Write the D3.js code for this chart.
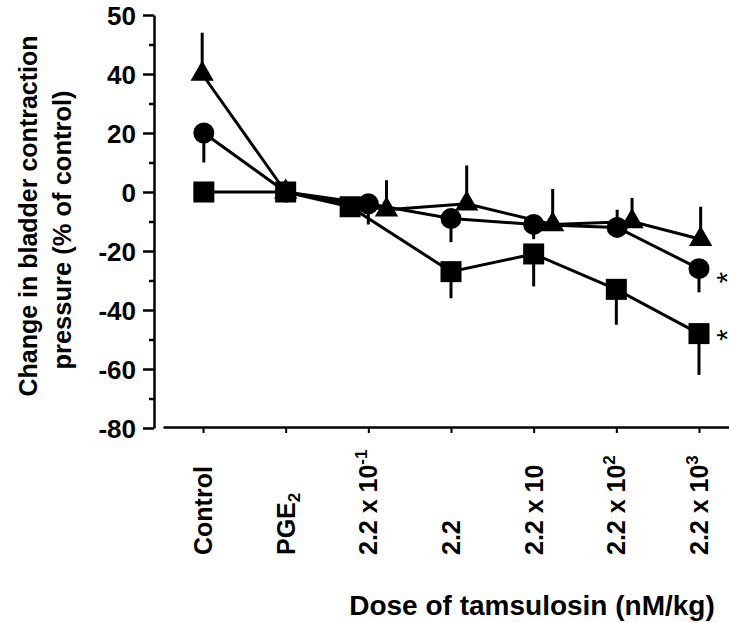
<!DOCTYPE html>
<html><head><meta charset="utf-8">
<script src="https://cdn.jsdelivr.net/npm/d3@7"></script>
<style>
body{margin:0;background:#fff}
text{font-family:"Liberation Sans",Arial,Helvetica,sans-serif;font-weight:bold;fill:#000}
</style>
</head><body><svg id="c" width="729" height="623"></svg>
<script>
// ---- data ----
const catBase = ["Control","PGE","2.2 x 10","2.2","2.2 x 10","2.2 x 10","2.2 x 10"];
const catSub  = ["","2","","","","",""];
const catSup  = ["","","-1","","","2","3"];
const catIndex = [0,1,2,3,4,5,6];

// series (x in category-index units, slightly offset where the markers were shifted)
const squareX   = [0.01, 1, 1.78, 3.0, 4.0, 5.0, 6.0];
const squareY   = [0, 0, -5, -27, -21, -33, -48];
const squareErr = [0, 0, 0, -9, -11, -12, -14];

const circleX   = [0.01, 1, 2.0, 3.0, 4.0, 5.01, 6.0];
const circleY   = [20, 0, -4, -9, -11, -12, -26];
const circleErr = [-10, 0, -7, -8, -5, 6, -8];

const triX      = [-0.01, 1, 2.22, 3.19, 4.23, 5.19, 6.02];
const triY      = [40, 0, -6, -4, -11, -10, -16];
const triErr    = [14, 0, 10, 13, 12, 8, 11];

const yTickValues = [60, 40, 20, 0, -20, -40, -60, -80];
const yTickLabels = ["50","40","20","0","-20","-40","-60","-80"];
const yMinorTicks = [50, 30, 10, -10, -30, -50, -70];

const starY = [-29, -48.5];
const starX = [6.24, 6.24];

// ---- drawing ----
const svg = d3.select("#c");
const x = d3.scaleLinear().domain([-0.484, 6.363]).range([163, 729]);
const y = d3.scaleLinear().domain([-80, 60]).range([428, 15]);

// y axis
const yAx = svg.append("g").attr("transform","translate(154,0)")
  .call(d3.axisLeft(y).tickValues(yTickValues).tickSize(11).tickSizeOuter(0).tickPadding(7)
        .tickFormat((d,i)=>yTickLabels[i]));
yAx.selectAll("text").style("font-size","26px").attr("dy","0.36em");
yAx.selectAll("line,path").attr("stroke","#000").attr("stroke-width",2.5);
const yMin = svg.append("g").attr("transform","translate(154,0)")
  .call(d3.axisLeft(y).tickValues(yMinorTicks).tickSize(5).tickSizeOuter(0).tickFormat(""));
yMin.select("path").remove();
yMin.selectAll("line").attr("stroke","#000").attr("stroke-width",2.5);

// x axis
const xAx = svg.append("g").attr("transform",`translate(0,${y(-80)-1})`)
  .call(d3.axisBottom(x).tickValues(catIndex).tickSize(6).tickSizeOuter(0).tickFormat(""));
xAx.select("path").attr("stroke","#000").attr("stroke-width",2.5);
xAx.selectAll("line").attr("stroke","#000").attr("stroke-width",2);

// x tick labels (rotated)
catIndex.forEach(i=>{
  const t = svg.append("text")
    .attr("transform",`translate(${x(i)+9},555) rotate(-90)`)
    .attr("text-anchor","start").style("font-size","25px");
  t.append("tspan").text(catBase[i]);
  if (catSub[i]) t.append("tspan").attr("dy","0.3em").style("font-size","17px").text(catSub[i]);
  if (catSup[i]) t.append("tspan").attr("dy","-0.6em").style("font-size","17px").text(catSup[i]);
});

// axis titles
svg.append("text").attr("transform","translate(37,216) rotate(-90)")
  .attr("text-anchor","middle").style("font-size","25px").text("Change in bladder contraction");
svg.append("text").attr("transform","translate(71,230) rotate(-90)")
  .attr("text-anchor","middle").style("font-size","25.5px").text("pressure (% of control)");
svg.append("text").attr("x",532).attr("y",615)
  .attr("text-anchor","middle").style("font-size","28px").text("Dose of tamsulosin (nM/kg)");

// series
const series = [
  {xs: squareX, ys: squareY, err: squareErr, sym: d3.symbolSquare, size: 441},
  {xs: circleX, ys: circleY, err: circleErr, sym: d3.symbolCircle, size: 346},
  {xs: triX,    ys: triY,    err: triErr,    sym: d3.symbolTriangle, size: 235}
];
const line = d3.line().x(d=>x(d[0])).y(d=>y(d[1]));
series.forEach(s=>{
  const pts = s.xs.map((v,i)=>[v, s.ys[i], s.err[i]]);
  svg.append("g").selectAll("line").data(pts.filter(p=>p[2]!==0)).join("line")
    .attr("x1",d=>x(d[0])).attr("x2",d=>x(d[0]))
    .attr("y1",d=>y(d[1])).attr("y2",d=>y(d[1]+d[2]))
    .attr("stroke","#000").attr("stroke-width",3);
  svg.append("path").attr("d", line(pts)).attr("fill","none")
    .attr("stroke","#000").attr("stroke-width",3);
});
series.forEach(s=>{
  const pts = s.xs.map((v,i)=>[v, s.ys[i]]);
  svg.append("g").selectAll("path").data(pts).join("path")
    .attr("transform",d=>`translate(${x(d[0])},${y(d[1])})`)
    .attr("d", d3.symbol().type(s.sym).size(s.size)())
    .attr("fill","#000");
});

// significance asterisks
starY.forEach((v,i)=>{
  svg.append("text")
    .attr("transform",`translate(${x(starX[i])},${y(v)}) rotate(-90)`)
    .attr("text-anchor","middle").attr("dy","0.6em")
    .style("font-size","30px").style("font-weight","normal").text("*");
});
</script>
</body></html>
